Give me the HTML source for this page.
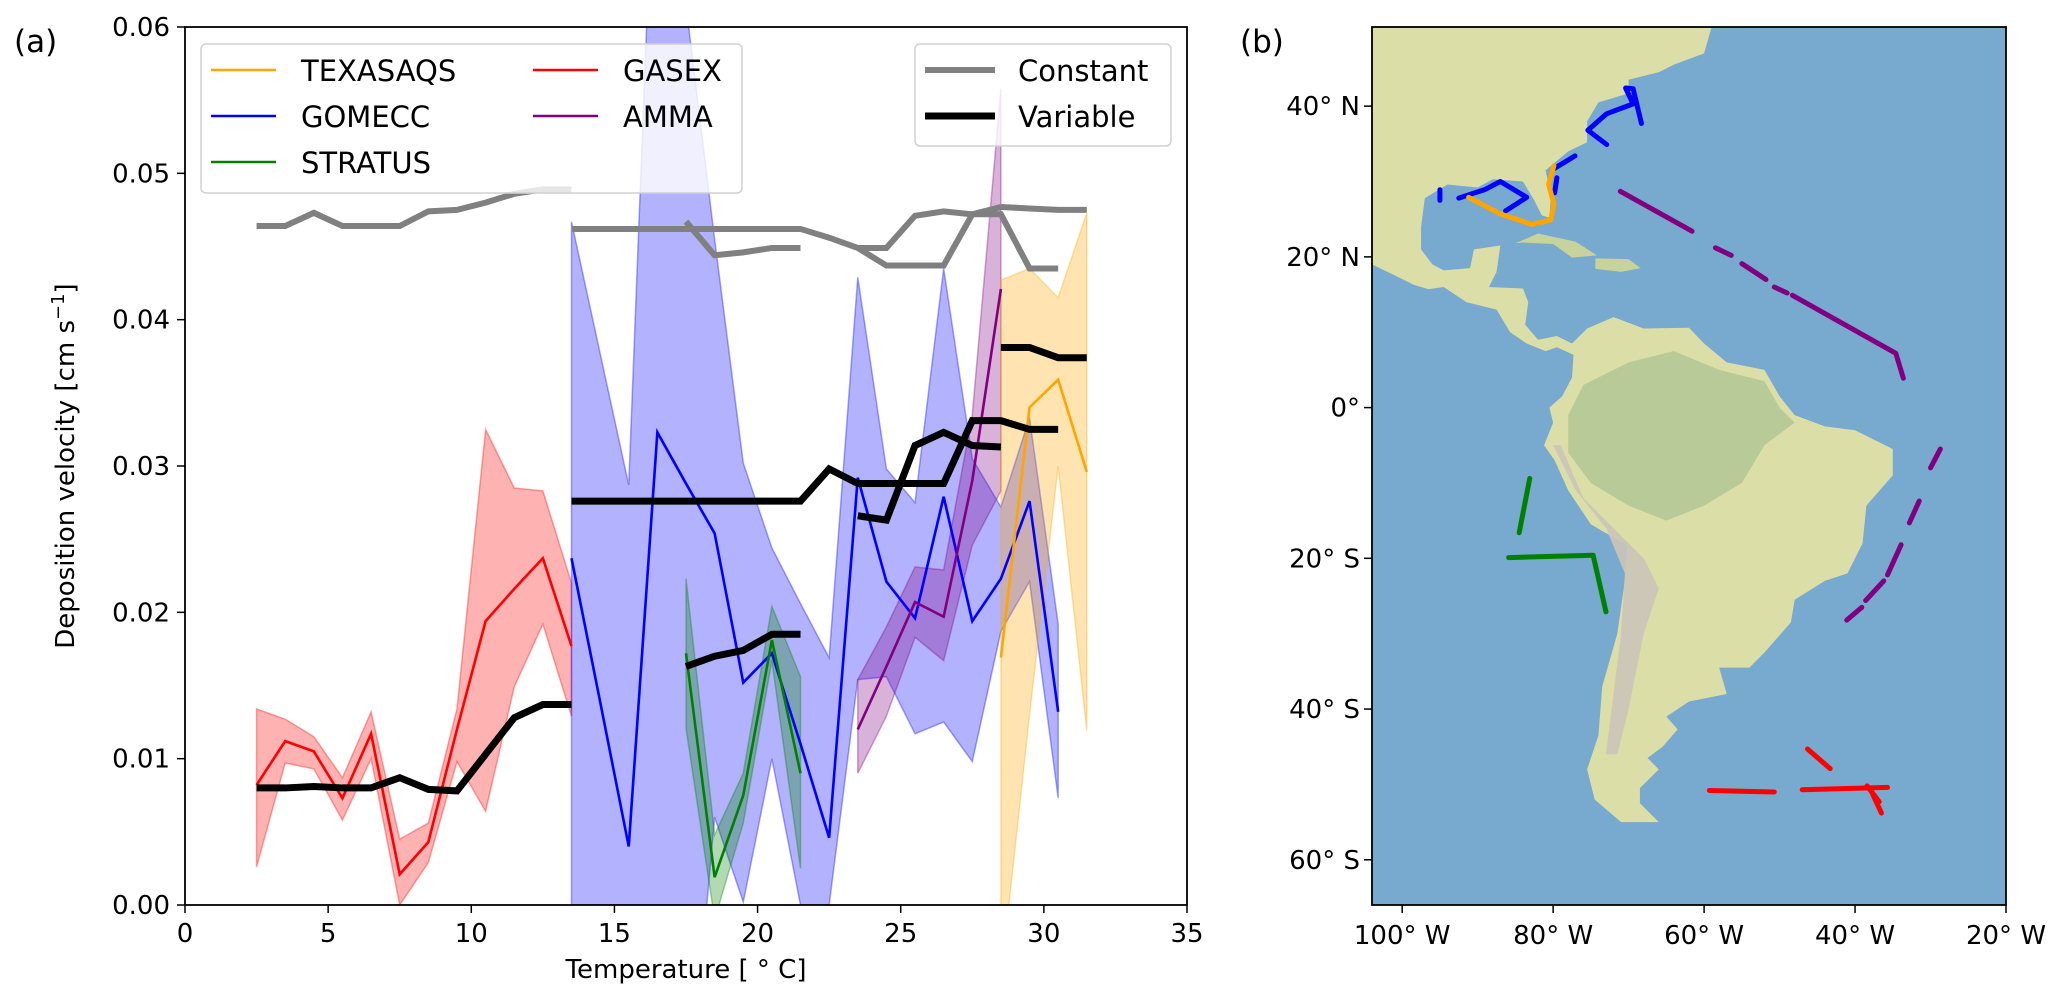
<!DOCTYPE html>
<html><head><meta charset="utf-8"><style>
html,body{margin:0;padding:0;background:#fff;width:2067px;height:1007px;overflow:hidden;position:relative}
svg{display:block;position:absolute;left:0;top:0}
svg text{font-family:"DejaVu Sans","Liberation Sans",sans-serif;fill:#000}
</style></head><body>
<svg id="fig" width="2067" height="1007" viewBox="0 0 2067 1007" overflow="hidden" xmlns="http://www.w3.org/2000/svg">
<defs>
<clipPath id="clipA"><rect x="185" y="27" width="1002" height="878"/></clipPath>
<clipPath id="clipB"><rect x="1372" y="27" width="634" height="878"/></clipPath>
</defs>
<text x="14" y="52" font-size="31">(a)</text>
<text x="1240" y="52" font-size="31">(b)</text>
<g id="chartA"></g>
<g id="mapB"></g>
</svg>
<script>
// ---------- Panel (a) data ----------
const xDomain=[0,35], yDomain=[0,0.06];
const xTicks=[0,5,10,15,20,25,30,35];
const xTickLabels=["0","5","10","15","20","25","30","35"];
const yTicks=[0,0.01,0.02,0.03,0.04,0.05,0.06];
const yTickLabels=["0.00","0.01","0.02","0.03","0.04","0.05","0.06"];

const gasexT=[2.5,3.5,4.5,5.5,6.5,7.5,8.5,9.5,10.5,11.5,12.5,13.5];
const gasexV=[0.0082,0.0112,0.0105,0.0073,0.0117,0.0021,0.0043,0.0120,0.0194,0.0216,0.0237,0.0177];
const gasexHi=[0.0134,0.0127,0.0115,0.0087,0.0132,0.0045,0.0056,0.0134,0.0325,0.0285,0.0283,0.0220];
const gasexLo=[0.0026,0.0097,0.0093,0.0058,0.0100,0.0000,0.0029,0.0098,0.0064,0.0149,0.0192,0.0129];
const gasexConst=[0.0464,0.0464,0.0473,0.0464,0.0464,0.0464,0.0474,0.0475,0.0480,0.0486,0.0489,0.0489];
const gasexVar=[0.0080,0.0080,0.0081,0.0080,0.0080,0.0087,0.0079,0.0078,0.0103,0.0128,0.0137,0.0137];

const gomeccT=[13.5,14.5,15.5,16.5,17.5,18.5,19.5,20.5,21.5,22.5,23.5,24.5,25.5,26.5,27.5,28.5,29.5,30.5];
const gomeccV=[0.0237,0.0139,0.0040,0.0323,0.0288,0.0254,0.0152,0.0172,0.0110,0.0046,0.0292,0.0221,0.0196,0.0279,0.0194,0.0223,0.0276,0.0132];
const gomeccHi=[0.0467,0.0377,0.0287,0.0790,0.0615,0.0455,0.0302,0.0244,0.0206,0.0169,0.0429,0.0298,0.0275,0.0435,0.0305,0.0272,0.0333,0.0192];
const gomeccLo=[0,0,0,0,-0.016,0.0060,0.0002,0.0100,0,0,0.0154,0.0156,0.0117,0.0125,0.0098,0.0187,0.0221,0.0073];
const gomeccConst=[0.0462,0.0462,0.0462,0.0462,0.0462,0.0462,0.0462,0.0462,0.0462,0.0456,0.0449,0.0437,0.0437,0.0437,0.0472,0.0472,0.0435,0.0435];
const gomeccVar=[0.0276,0.0276,0.0276,0.0276,0.0276,0.0276,0.0276,0.0276,0.0276,0.0298,0.0288,0.0288,0.0288,0.0288,0.0331,0.0331,0.0325,0.0325];

const stratusT=[17.5,18.5,19.5,20.5,21.5];
const stratusV=[0.0172,0.0019,0.0075,0.0181,0.0090];
const stratusHi=[0.0223,0.0048,0.0090,0.0204,0.0156];
const stratusLo=[0.0121,-0.001,0.0056,0.0167,0.0025];
const stratusConst=[0.0467,0.0444,0.0446,0.0449,0.0449];
const stratusVar=[0.0163,0.0170,0.0174,0.0185,0.0185];

const ammaT=[23.5,24.5,25.5,26.5,27.5,28.5];
const ammaV=[0.0120,0.0163,0.0207,0.0197,0.0290,0.0421];
const ammaHi=[0.0154,0.0190,0.0231,0.0229,0.0335,0.0558];
const ammaLo=[0.0090,0.0129,0.0183,0.0167,0.0246,0.0283];
const ammaConst=[0.0449,0.0449,0.0471,0.0474,0.0472,0.0477];
const ammaVar=[0.0266,0.0263,0.0314,0.0323,0.0314,0.0313];

const texasT=[28.5,29.5,30.5,31.5];
const texasV=[0.0169,0.0340,0.0359,0.0296];
const texasHi=[0.0427,0.0435,0.0415,0.0473];
const texasLo=[-0.005,0.0130,0.0300,0.0119];
const texasConst=[0.0477,0.0476,0.0475,0.0475];
const texasVar=[0.0381,0.0381,0.0374,0.0374];

const NS="http://www.w3.org/2000/svg";
const X0=185,X1=1187,Y0=905,Y1=27;
function sx(v){return X0+(v-xDomain[0])/(xDomain[1]-xDomain[0])*(X1-X0);}
function sy(v){return Y0-(v-yDomain[0])/(yDomain[1]-yDomain[0])*(Y0-Y1);}
function mk(tag,attrs,parent){const e=document.createElementNS(NS,tag);for(const k in attrs)e.setAttribute(k,attrs[k]);parent.appendChild(e);return e;}
const A=document.getElementById('chartA');
const plot=mk('g',{'clip-path':'url(#clipA)'},A);



// clip a polygon (pixel coords) to horizontal band ymin..ymax
function clipY(pts,yLim,keepBelow){
  const out=[];
  const inside=p=>keepBelow?p[1]<=yLim:p[1]>=yLim;
  for(let i=0;i<pts.length;i++){
    const a=pts[i],b=pts[(i+1)%pts.length];
    const ia=inside(a),ib=inside(b);
    if(ia)out.push(a);
    if(ia!==ib){const t=(yLim-a[1])/(b[1]-a[1]);out.push([a[0]+t*(b[0]-a[0]),yLim]);}
  }
  return out;
}
function band(T,lo,hi,color,name){
  let pts=T.map((t,i)=>[sx(t),sy(hi[i])]);
  for(let i=T.length-1;i>=0;i--)pts.push([sx(T[i]),sy(lo[i])]);
  pts=clipY(pts,Y0,true);
  pts=clipY(pts,Y1-2,false);
  const d='M'+pts.map(p=>p[0].toFixed(2)+','+p[1].toFixed(2)).join('L')+'Z';
  const p=mk('path',{d:d,fill:color,'fill-opacity':0.3,stroke:color,'stroke-opacity':0.35,'stroke-width':1.5},plot);
  
  
}
function line(T,V,color,w,name){
  const p=mk('polyline',{points:T.map((t,i)=>sx(t)+','+sy(V[i])).join(' '),fill:'none',stroke:color,'stroke-width':w,'stroke-linejoin':'miter'},plot);
  
  
}
band(gasexT,gasexLo,gasexHi,'#ff0000','gasex-band');
band(gomeccT,gomeccLo,gomeccHi,'#0000ff','gomecc-band');
band(stratusT,stratusLo,stratusHi,'#008000','stratus-band');
band(ammaT,ammaLo,ammaHi,'#800080','amma-band');
band(texasT,texasLo,texasHi,'#ffa500','texasaqs-band');
line(gasexT,gasexV,'#ff0000',2.6,'gasex-line');
line(gomeccT,gomeccV,'#0000ff',2.6,'gomecc-line');
line(stratusT,stratusV,'#008000',2.6,'stratus-line');
line(ammaT,ammaV,'#800080',2.6,'amma-line');
line(texasT,texasV,'#ffa500',2.6,'texasaqs-line');
line(gasexT,gasexConst,'#808080',6,'gasex-constant');
line(gomeccT,gomeccConst,'#808080',6,'gomecc-constant');
line(stratusT,stratusConst,'#808080',6,'stratus-constant');
line(ammaT,ammaConst,'#808080',6,'amma-constant');
line(texasT,texasConst,'#808080',6,'texasaqs-constant');
line(gasexT,gasexVar,'#000000',7,'gasex-variable');
line(gomeccT,gomeccVar,'#000000',7,'gomecc-variable');
line(stratusT,stratusVar,'#000000',7,'stratus-variable');
line(ammaT,ammaVar,'#000000',7,'amma-variable');
line(texasT,texasVar,'#000000',7,'texasaqs-variable');

const frame=mk('rect',{x:X0,y:Y1,width:X1-X0,height:Y0-Y1,fill:'none',stroke:'#000','stroke-width':1.8},A);


xTicks.forEach((t,i)=>{
  const tk=mk('line',{x1:sx(t),x2:sx(t),y1:Y0,y2:Y0+8,stroke:'#000','stroke-width':1.5},A);
  
  
  const tx=mk('text',{x:sx(t),y:Y0+37,'font-size':26,'text-anchor':'middle'},A);
  tx.textContent=xTickLabels[i];
  
  
});
yTicks.forEach((t,i)=>{
  const tk=mk('line',{x1:X0-8,x2:X0,y1:sy(t),y2:sy(t),stroke:'#000','stroke-width':1.5},A);
  
  
  const tx=mk('text',{x:X0-15,y:sy(t)+9,'font-size':26,'text-anchor':'end'},A);
  tx.textContent=yTickLabels[i];
  
  
});
const xl=mk('text',{x:686,y:978,'font-size':26,'text-anchor':'middle'},A);
xl.textContent='Temperature [ ° C]';


const yl=mk('text',{x:0,y:0,'font-size':26,'text-anchor':'middle',transform:'translate(74,466) rotate(-90)'},A);
yl.innerHTML='Deposition velocity [cm s<tspan dy="-10" font-size="18">−1</tspan><tspan dy="10">]</tspan>';



// legends
const lg=mk('rect',{x:201,y:44,width:541,height:149,rx:5,fill:'#fff','fill-opacity':0.8,stroke:'#d0d0d0','stroke-width':1.5},A);


const legItems=[["TEXASAQS","#ffa500",211,70],["GOMECC","#0000ff",211,116],["STRATUS","#008000",211,162],["GASEX","#ff0000",533,70],["AMMA","#800080",533,116]];
legItems.forEach(it=>{
  const l=mk('line',{x1:it[2],x2:it[2]+65,y1:it[3],y2:it[3],stroke:it[1],'stroke-width':2.6},A);
  
  
  const t=mk('text',{x:it[2]+90,y:it[3]+11,'font-size':29},A);
  t.textContent=it[0];
  
  
});
const lg2=mk('rect',{x:915,y:44,width:256,height:102,rx:5,fill:'#fff','fill-opacity':0.8,stroke:'#d0d0d0','stroke-width':1.5},A);


[["Constant","#808080",6,70],["Variable","#000000",7,116]].forEach(it=>{
  const l=mk('line',{x1:925,x2:995,y1:it[3],y2:it[3],stroke:it[1],'stroke-width':it[2]},A);
  
  
  const t=mk('text',{x:1018,y:it[3]+11,'font-size':29},A);
  t.textContent=it[0];
  
  
});

// ---------- Panel (b) map ----------
const lonDomain=[-104,-20], latDomain=[-66,50.5];
const lonTicks=[-100,-80,-60,-40,-20];
const lonTickLabels=["100° W","80° W","60° W","40° W","20° W"];
const latTicks=[40,20,0,-20,-40,-60];
const latTickLabels=["40° N","20° N","0°","20° S","40° S","60° S"];
const MX0=1372,MX1=2006;
function px(lon){return MX0+(lon-lonDomain[0])/(lonDomain[1]-lonDomain[0])*(MX1-MX0);}
function py(lat){return Y0-(lat-latDomain[0])/(latDomain[1]-latDomain[0])*(Y0-Y1);}
const americas=[[-104,50.5],[-59,50.5],[-60,47],[-64,45.5],[-66,44.5],[-70,43.5],[-70,41.7],[-74,40.5],[-75.5,38],[-75.5,35.2],[-78,34],[-81,31.5],[-80.3,28],[-80.5,25.2],[-81.5,25.5],[-82.5,27.5],[-84,30],[-88,30.3],[-90,29.2],[-94,29.6],[-97,27.8],[-97.5,24],[-97.5,21],[-96,19],[-94.5,18.2],[-91,18.5],[-90.5,21],[-87,21.5],[-87.5,18],[-88.5,16],[-84,15.8],[-83.3,14],[-83.7,11],[-82,9],[-79.5,9.5],[-77.5,8.5],[-75.5,10.5],[-72,12],[-68,10.5],[-62,10.6],[-60,8.5],[-57,6],[-52,5],[-50,1.5],[-48,-1],[-44,-2.5],[-40,-3],[-35,-5.5],[-35,-9],[-38.5,-13],[-39,-18],[-41,-22],[-44,-23],[-48,-25.5],[-48.5,-28.5],[-52,-32.5],[-54,-34.5],[-58,-34.5],[-57,-38],[-62,-39],[-65,-41],[-63.5,-42.7],[-65.5,-45],[-67.5,-46.5],[-66,-48],[-68.5,-50.5],[-68.5,-52.5],[-66,-55],[-71,-55],[-74.5,-52],[-75.5,-48],[-74,-43.5],[-73.5,-37],[-71.5,-30],[-70.5,-23],[-70.2,-18.3],[-75,-15.5],[-78,-11],[-79.8,-7],[-81.2,-5],[-80,-2],[-80.5,0],[-78.8,1.5],[-77.5,4],[-77.3,7],[-79.5,8],[-81,7.5],[-83.5,8.5],[-85.7,10],[-87.5,13],[-91.5,14],[-94.5,16],[-96.5,15.7],[-98.5,16.3],[-101.5,17.8],[-104,19]];
const amazon=[[-76,3],[-70,6],[-64,7.5],[-58,5],[-52,3.5],[-50,0],[-48,-2],[-52,-5],[-55,-10],[-60,-13],[-65,-15],[-70,-13],[-75,-10],[-78,-6],[-78,-1]];
const andes=[[-79,-5],[-76,-12],[-71,-17],[-68,-20],[-66,-24],[-68,-30],[-70,-40],[-71.5,-46],[-73,-46],[-72,-38],[-71,-30],[-70.5,-22],[-73,-16],[-77,-11],[-80,-5]];
const cuba=[[-85,21.8],[-82,23.1],[-77,22],[-74.2,20.2],[-77.5,19.9],[-80,21.7],[-84,21.9]];
const hispaniola=[[-74.4,19.8],[-70,19.7],[-68.4,18.5],[-71,18],[-74.4,18.4]];
const gomeccTrack1=[[-95,28.9],[-95,27.5]];
const gomeccTrack2=[[-92.5,27.8],[-91,28.3],[-89.1,28.9],[-87,30],[-83.5,27.9],[-86.3,26.1]];
const gomeccTrack3=[[-79.9,31.7],[-77.1,33.4]];
const gomeccTrack4=[[-79.5,30.5],[-79.8,28.5]];
const gomeccTrack5=[[-72.9,34.9],[-75.4,36.8],[-72.9,39.0],[-69.4,40.3],[-70.4,42.4],[-69.4,42.3],[-68.3,37.7]];
const texasTrack=[[-91.2,27.9],[-87,25.7],[-82.8,24.3],[-80.3,24.9],[-79.9,27.0],[-80.6,29.6],[-79.9,32.1]];
const ammaTrack=[[[-71.1,28.7],[-61.6,23.4]],[[-58.5,21.2],[-56.4,20.2]],[[-55,19.1],[-51.8,17.0]],[[-50.7,16.0],[-49,15.2]],[[-48.3,14.9],[-34.6,7.2],[-33.6,3.9]],[[-28.7,-5.5],[-30,-8.0]],[[-31.5,-12.4],[-32.8,-15.3]],[[-33.9,-18.2],[-35.7,-22.2]],[[-36.2,-23.0],[-38.6,-25.6]],[[-39.1,-26.5],[-41.1,-28.2]]];
const stratusTrack=[[[-83.1,-9.4],[-84.5,-16.6]],[[-85.9,-19.9],[-74.7,-19.6],[-73,-27.1]]];
const gasexTrack=[[[-59.3,-50.8],[-50.7,-51.0]],[[-47,-50.7],[-35.7,-50.4]],[[-46.3,-45.3],[-43.3,-47.9]],[[-38.4,-50.2],[-36.8,-52.3],[-37.8,-51.0],[-36.5,-53.8]]];

const B=document.getElementById('mapB');
const mg=mk('g',{'clip-path':'url(#clipB)'},B);


const ocean=mk('rect',{x:MX0,y:Y1,width:MX1-MX0,height:Y0-Y1,fill:'#78a9cf'},mg);


function poly(pts,fill,name,op){
  const p=mk('polygon',{points:pts.map(q=>px(q[0])+','+py(q[1])).join(' '),fill:fill,'fill-opacity':op||1},mg);
  
  
}
poly(americas,'#dcdea8','americas-land');
poly(amazon,'#b0c795','amazon-region',0.85);
poly(andes,'#cbc4b8','andes-region',0.9);
poly(cuba,'#c8d39c','cuba');
poly(hispaniola,'#c8d39c','hispaniola');
function track(pts,color,name){
  const p=mk('polyline',{points:pts.map(q=>px(q[0])+','+py(q[1])).join(' '),fill:'none',stroke:color,'stroke-width':5,'stroke-linecap':'round','stroke-linejoin':'round'},mg);
  
  
}
track(gomeccTrack1,'#0000ff','gomecc-track');
track(gomeccTrack2,'#0000ff','gomecc-track');
track(gomeccTrack3,'#0000ff','gomecc-track');
track(gomeccTrack4,'#0000ff','gomecc-track');
track(gomeccTrack5,'#0000ff','gomecc-track');
track(texasTrack,'#ffa500','texasaqs-track');
ammaTrack.forEach(s=>track(s,'#800080','amma-track'));
stratusTrack.forEach(s=>track(s,'#008000','stratus-track'));
gasexTrack.forEach(s=>track(s,'#ff0000','gasex-track'));
const mf=mk('rect',{x:MX0,y:Y1,width:MX1-MX0,height:Y0-Y1,fill:'none',stroke:'#000','stroke-width':1.8},B);


lonTicks.forEach((t,i)=>{
  const tk=mk('line',{x1:px(t),x2:px(t),y1:Y0,y2:Y0+8,stroke:'#000','stroke-width':1.5},B);
  
  
  const tx=mk('text',{x:px(t),y:Y0+39,'font-size':26,'text-anchor':'middle'},B);
  tx.textContent=lonTickLabels[i];
  
  
});
latTicks.forEach((t,i)=>{
  const tk=mk('line',{x1:MX0-8,x2:MX0,y1:py(t),y2:py(t),stroke:'#000','stroke-width':1.5},B);
  
  
  const tx=mk('text',{x:MX0-12,y:py(t)+9,'font-size':26,'text-anchor':'end'},B);
  tx.textContent=latTickLabels[i];
  
  
});
</script>
</body></html>
